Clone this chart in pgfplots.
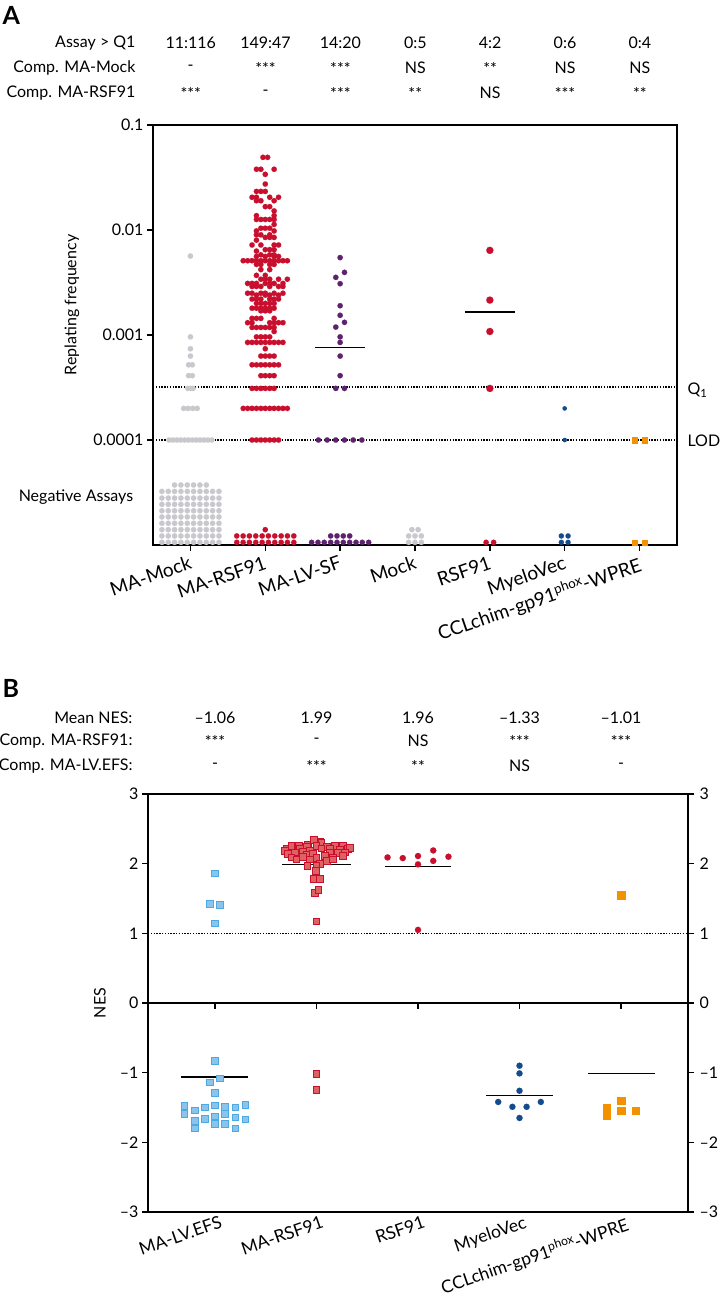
\documentclass[border=0pt]{standalone}
\usepackage{pgfplots}
\pgfplotsset{compat=1.18}
\usepackage{fontspec}
\setmainfont{Lato}
\definecolor{cred}{RGB}{200,16,46}
\definecolor{cgray}{RGB}{200,200,205}
\definecolor{cpurple}{RGB}{94,33,110}
\definecolor{cblue}{RGB}{20,75,140}
\definecolor{corange}{RGB}{243,146,0}
\definecolor{clblue}{RGB}{140,195,235}
\definecolor{clbluedraw}{RGB}{75,170,228}
\definecolor{csqred}{RGB}{222,98,98}
\newcommand{\fs}{\fontsize{16}{19}\selectfont}
\newcommand{\fx}{\fontsize{19}{22}\selectfont}
\newcommand{\fxb}{\fontsize{17.5}{21}\selectfont}
\pgfplotsset{
  dot/.style={only marks, mark=*, mark size=2.7pt, mark options={draw=#1, fill=#1, line width=0.1pt}},
  meanline/.style={black, line width=1.5pt, no marks},
  dotline/.style={black, line width=1.5pt, dash pattern=on 1.4pt off 1.4pt, no marks},
}
\begin{document}
\begin{tikzpicture}
\path[use as bounding box] (0,0) rectangle (720pt,-1300pt);
% ---------------- Panel A header
\node[font=\bfseries\fontsize{25}{29}\selectfont, anchor=west] at (-1pt,-15pt) {A};
\node[anchor=east,font=\fs] at (139pt,-43pt) {Assay > Q1};
\node[anchor=east,font=\fs] at (139pt,-68pt) {Comp. MA-Mock};
\node[anchor=east,font=\fs] at (139pt,-93pt) {Comp. MA-RSF91};
\foreach \x/\t in {0/11:116,1/149:47,2/14:20,3/0:5,4/4:2,5/0:6,6/0:4}
  \node[font=\fs] at ({190.7pt+\x*74.86pt},-43pt) {\t};
\foreach \x/\t in {0/-,1/***,2/***,3/NS,4/**,5/NS,6/NS}
  \node[font=\fs] at ({190.7pt+\x*74.86pt},-68pt) {\t};
\foreach \x/\t in {0/***,1/-,2/***,3/**,4/NS,5/***,6/**}
  \node[font=\fs] at ({190.7pt+\x*74.86pt},-93pt) {\t};
\node[font=\fs, rotate=90] at (72pt,-305pt) {Replating frequency};
\node[font=\fs] at (76pt,-497pt) {Negative Assays};
\node[font=\fs, anchor=west] at (684pt,-390pt) {Q\textsubscript{1}};
\node[font=\fs, anchor=west] at (684pt,-441pt) {LOD};

\begin{axis}[
  at={(153pt,-545pt)}, anchor=south west, scale only axis,
  width=524pt, height=420pt,
  xmin=-0.5, xmax=6.5, ymode=log, ymin=1e-5, ymax=0.1,
  clip=false,
  axis line style={line width=1.6pt},
  xtick={0,1,2,3,4,5,6},
  xticklabels={MA-Mock, MA-RSF91, MA-LV-SF, Mock, RSF91, MyeloVec, CCLchim-gp91\textsuperscript{phox}-WPRE},
  ytick={1e-4,1e-3,1e-2,1e-1}, yticklabels={0.0001,0.001,0.01,0.1},
  yminorticks=false,
  xtick pos=bottom, ytick pos=left, tick align=outside,
  major tick length=6pt,
  every tick/.style={black, line width=1.4pt},
  tick label style={font=\fs},
  xticklabel style={rotate=19, anchor=north east, font=\fx},
]
\addplot[dotline] coordinates {(-0.5,0.00032) (6.5,0.00032)};
\addplot[dotline] coordinates {(-0.5,0.0001) (6.5,0.0001)};
% MA-Mock gray
\addplot[dot=cgray] coordinates {
(0,0.00565) (0,0.00096) (0,0.00074) (0,0.00063)
(-0.025,0.00052) (0.025,0.00052) (-0.025,0.00041) (0.025,0.00041)
(-0.035,0.00031) (0,0.00031) (0.035,0.00031)
(-0.09,0.0002) (-0.03,0.0002) (0.03,0.0002) (0.09,0.0002)
(-0.286,0.0001) (-0.234,0.0001) (-0.182,0.0001) (-0.130,0.0001) (-0.078,0.0001) (-0.026,0.0001)
(0.026,0.0001) (0.078,0.0001) (0.130,0.0001) (0.182,0.0001) (0.234,0.0001) (0.286,0.0001)
(-0.381,1.06e-5) (-0.296,1.06e-5) (-0.212,1.06e-5) (-0.127,1.06e-5) (-0.042,1.06e-5) (0.042,1.06e-5) (0.127,1.06e-5) (0.212,1.06e-5) (0.296,1.06e-5) (0.381,1.06e-5)
(-0.381,1.22e-5) (-0.296,1.22e-5) (-0.212,1.22e-5) (-0.127,1.22e-5) (-0.042,1.22e-5) (0.042,1.22e-5) (0.127,1.22e-5) (0.212,1.22e-5) (0.296,1.22e-5) (0.381,1.22e-5)
(-0.381,1.40e-5) (-0.296,1.40e-5) (-0.212,1.40e-5) (-0.127,1.40e-5) (-0.042,1.40e-5) (0.042,1.40e-5) (0.127,1.40e-5) (0.212,1.40e-5) (0.296,1.40e-5) (0.381,1.40e-5)
(-0.381,1.61e-5) (-0.296,1.61e-5) (-0.212,1.61e-5) (-0.127,1.61e-5) (-0.042,1.61e-5) (0.042,1.61e-5) (0.127,1.61e-5) (0.212,1.61e-5) (0.296,1.61e-5) (0.381,1.61e-5)
(-0.381,1.85e-5) (-0.296,1.85e-5) (-0.212,1.85e-5) (-0.127,1.85e-5) (-0.042,1.85e-5) (0.042,1.85e-5) (0.127,1.85e-5) (0.212,1.85e-5) (0.296,1.85e-5) (0.381,1.85e-5)
(-0.381,2.12e-5) (-0.296,2.12e-5) (-0.212,2.12e-5) (-0.127,2.12e-5) (-0.042,2.12e-5) (0.042,2.12e-5) (0.127,2.12e-5) (0.212,2.12e-5) (0.296,2.12e-5) (0.381,2.12e-5)
(-0.381,2.44e-5) (-0.296,2.44e-5) (-0.212,2.44e-5) (-0.127,2.44e-5) (-0.042,2.44e-5) (0.042,2.44e-5) (0.127,2.44e-5) (0.212,2.44e-5) (0.296,2.44e-5) (0.381,2.44e-5)
(-0.381,2.80e-5) (-0.296,2.80e-5) (-0.212,2.80e-5) (-0.127,2.80e-5) (-0.042,2.80e-5) (0.042,2.80e-5) (0.127,2.80e-5) (0.212,2.80e-5) (0.296,2.80e-5) (0.381,2.80e-5)
(-0.381,3.24e-5) (-0.296,3.24e-5) (-0.212,3.24e-5) (-0.127,3.24e-5) (-0.042,3.24e-5) (0.042,3.24e-5) (0.127,3.24e-5) (0.212,3.24e-5) (0.296,3.24e-5) (0.381,3.24e-5)
(-0.212,3.73e-5) (-0.127,3.73e-5) (-0.042,3.73e-5) (0.042,3.73e-5) (0.127,3.73e-5) (0.212,3.73e-5)
};
% MA-RSF91 red
\addplot[dot=cred] coordinates {
(0.969,0.0492) (1.031,0.0492)
(0.882,0.0379) (0.941,0.0379) (1.118,0.0379)
(1,0.0339) (1,0.0274)
(0.882,0.0233) (0.941,0.0233) (1,0.0233)
(0.823,0.0205) (0.882,0.0205) (1.059,0.0205) (1.177,0.0205)
(0.882,0.019) (0.941,0.019) (1.118,0.019)
(1,0.0167) (1.059,0.0167)
(1.118,0.0152)
(0.882,0.0137) (1.118,0.0137)
(0.882,0.0126) (0.941,0.0126) (1,0.0126) (1.059,0.0126) (1.118,0.0126)
(1.118,0.0113)
(0.941,0.0104) (1,0.0104) (1.059,0.0104)
(0.882,0.0098) (1.118,0.0098)
(0.882,0.009) (0.941,0.009) (1.059,0.009)
(1,0.0085) (1.059,0.0085) (1.118,0.0085)
(0.882,0.008)
(0.823,0.0072) (0.941,0.0072) (1.118,0.0072) (1.177,0.0072)
(1,0.0065) (1.059,0.0065) (1.118,0.0065)
(0.882,0.0063)
(0.941,0.0058) (1.059,0.0058) (1.118,0.0058)
(0.882,0.0056) (1,0.0056) (1.118,0.0056) (1.177,0.0056)
(0.705,0.0051) (0.764,0.0051) (0.823,0.0051) (0.882,0.0051) (0.941,0.0051) (1,0.0051) (1.059,0.0051) (1.118,0.0051) (1.177,0.0051) (1.236,0.0051) (1.295,0.0051)
(0.882,0.0047) (0.941,0.0047) (1.059,0.0047) (1.118,0.0047)
(0.941,0.0042) (1.059,0.0042)
(0.882,0.0037) (1,0.0037)
(0.941,0.0034) (1,0.0034) (1.059,0.0034) (1.177,0.0034) (1.295,0.0034)
(0.764,0.0031) (0.823,0.0031) (0.882,0.0031) (1,0.0031) (1.059,0.0031) (1.118,0.0031) (1.236,0.0031)
(0.823,0.0029) (0.882,0.0029) (0.941,0.0029) (1.059,0.0029) (1.177,0.0029) (1.236,0.0029)
(0.764,0.0025) (0.823,0.0025) (0.941,0.0025) (1,0.0025) (1.118,0.0025) (1.236,0.0025)
(0.882,0.0024) (1,0.0024) (1.059,0.0024) (1.177,0.0024)
(0.823,0.0022) (0.882,0.0022) (0.941,0.0022) (1.059,0.0022) (1.118,0.0022) (1.177,0.0022)
(0.882,0.002) (0.941,0.002) (1,0.002) (1.059,0.002) (1.118,0.002)
(0.823,0.0018) (0.882,0.0018) (0.941,0.0018) (1,0.0018) (1.059,0.0018) (1.118,0.0018)
(0.941,0.0017) (1,0.0017) (1.059,0.0017)
(0.823,0.00144) (0.882,0.00144) (0.941,0.00144) (1.118,0.00144)
(0.764,0.00131) (0.823,0.00131) (1.059,0.00131) (1.118,0.00131) (1.177,0.00131) (1.236,0.00131)
(0.823,0.00118) (0.882,0.00118) (0.941,0.00118) (1,0.00118) (1.059,0.00118) (1.118,0.00118)
(1.118,0.00108)
(0.882,0.00096) (0.941,0.00096) (1,0.00096) (1.059,0.00096)
(0.764,0.00085) (0.823,0.00085) (0.882,0.00085) (0.941,0.00085) (1,0.00085) (1.059,0.00085) (1.118,0.00085) (1.177,0.00085) (1.236,0.00085)
(1,0.00074)
(0.941,0.00063) (1,0.00063) (1.059,0.00063) (1.118,0.00063)
(0.823,0.00052) (0.882,0.00052) (0.941,0.00052) (1,0.00052) (1.059,0.00052) (1.118,0.00052) (1.177,0.00052)
(0.941,0.00041) (1,0.00041) (1.059,0.00041) (1.118,0.00041)
(0.823,0.00031) (0.882,0.00031) (0.941,0.00031) (1,0.00031) (1.059,0.00031) (1.118,0.00031)
(0.705,0.0002) (0.764,0.0002) (0.823,0.0002) (0.882,0.0002) (0.941,0.0002) (1,0.0002) (1.059,0.0002) (1.118,0.0002) (1.177,0.0002) (1.236,0.0002) (1.295,0.0002)
(0.823,0.0001) (0.882,0.0001) (0.941,0.0001) (1,0.0001) (1.059,0.0001) (1.118,0.0001) (1.177,0.0001)
(0.619,1.06e-5) (0.704,1.06e-5) (0.788,1.06e-5) (0.873,1.06e-5) (0.958,1.06e-5) (1.042,1.06e-5) (1.127,1.06e-5) (1.212,1.06e-5) (1.296,1.06e-5) (1.381,1.06e-5)
(0.619,1.22e-5) (0.704,1.22e-5) (0.788,1.22e-5) (0.873,1.22e-5) (0.958,1.22e-5) (1.042,1.22e-5) (1.127,1.22e-5) (1.212,1.22e-5) (1.296,1.22e-5) (1.381,1.22e-5)
(1,1.40e-5)
};
% MA-LV-SF purple
\addplot[dot=cpurple] coordinates {
(2,0.00546) (2.058,0.00395) (1.942,0.00354) (2,0.00308) (2,0.0019) (2,0.00154)
(2.058,0.00132) (1.942,0.00119) (2,0.00096) (2,0.00085) (2,0.00063) (2,0.00041)
(1.942,0.00031) (2.058,0.00031)
(1.71,0.0001) (1.826,0.0001) (1.942,0.0001) (2.058,0.0001) (2.174,0.0001) (2.29,0.0001)
(1.619,1.06e-5) (1.704,1.06e-5) (1.788,1.06e-5) (1.873,1.06e-5) (1.958,1.06e-5) (2.042,1.06e-5) (2.127,1.06e-5) (2.212,1.06e-5) (2.296,1.06e-5) (2.381,1.06e-5)
(1.873,1.22e-5) (1.958,1.22e-5) (2.042,1.22e-5) (2.127,1.22e-5)
};
% Mock gray
\addplot[dot=cgray] coordinates {
(2.915,1.06e-5) (3,1.06e-5) (3.085,1.06e-5)
(2.915,1.22e-5) (3,1.22e-5) (3.085,1.22e-5)
(2.958,1.40e-5) (3.042,1.40e-5)
};
% RSF91 red
\addplot[only marks, mark=*, mark size=3.6pt, mark options={draw=cred, fill=cred, line width=0.1pt}] coordinates {
(4,0.0064) (4,0.00215) (4,0.00108) (4,0.00031)
};
\addplot[dot=cred] coordinates {(3.95,1.06e-5) (4.05,1.06e-5)};
% MyeloVec blue
\addplot[only marks, mark=*, mark size=2.2pt, mark options={draw=cblue, fill=cblue, line width=0.1pt}] coordinates {(5,0.0002) (5,0.0001)};
\addplot[only marks, mark=*, mark size=2.6pt, mark options={draw=cblue, fill=cblue, line width=0.1pt}] coordinates {
(4.955,1.06e-5) (5.045,1.06e-5) (4.955,1.22e-5) (5.045,1.22e-5)};
% CCLchim orange squares
\addplot[only marks, mark=square*, mark size=2.8pt, mark options={draw=corange, fill=corange, line width=0.1pt}] coordinates {
(5.933,0.0001) (6.067,0.0001) (5.933,1.06e-5) (6.067,1.06e-5)};
% means
\addplot[meanline] coordinates {(0.67,0.00507) (1.33,0.00507)};
\addplot[meanline] coordinates {(1.67,0.00076) (2.33,0.00076)};
\addplot[meanline] coordinates {(3.667,0.00166) (4.333,0.00166)};
\end{axis}

% ---------------- Panel B header
\node[font=\bfseries\fontsize{25}{29}\selectfont, anchor=west] at (-1pt,-688pt) {B};
\node[anchor=east,font=\fs] at (136pt,-718pt) {Mean NES:};
\node[anchor=east,font=\fs] at (136pt,-741pt) {Comp. MA-RSF91:};
\node[anchor=east,font=\fs] at (136pt,-766pt) {Comp. MA-LV.EFS:};
\foreach \x/\t in {0/–1.06,1/1.99,2/1.96,3/–1.33,4/–1.01}
  \node[font=\fs] at ({215pt+\x*101.5pt},-718pt) {\t};
\foreach \x/\t in {0/***,1/-,2/NS,3/***,4/***}
  \node[font=\fs] at ({215pt+\x*101.5pt},-741pt) {\t};
\foreach \x/\t in {0/-,1/***,2/**,3/NS,4/-}
  \node[font=\fs] at ({215pt+\x*101.5pt},-766pt) {\t};
\node[font=\fs, rotate=90] at (100pt,-1003pt) {NES};

\begin{axis}[
  at={(148pt,-1212pt)}, anchor=south west, scale only axis,
  width=540pt, height=418pt,
  xmin=-0.66, xmax=4.66, ymin=-3, ymax=3,
  clip=false,
  axis line style={line width=1.6pt},
  xtick=\empty,
  ytick={-3,-2,-1,0,1,2,3}, yticklabels={–3,–2,–1,0,1,2,3},
  ytick pos=both, yticklabel pos=left, tick align=outside,
  major tick length=6pt,
  every tick/.style={black, line width=1.4pt},
  tick label style={font=\fs},
]
\draw[line width=1.6pt] (axis cs:-0.66,0) -- (axis cs:4.66,0);
\draw[line width=1.4pt] (axis cs:0,0) -- ([yshift=-6pt]axis cs:0,0);
\draw[line width=1.4pt] (axis cs:1,0) -- ([yshift=-6pt]axis cs:1,0);
\draw[line width=1.4pt] (axis cs:2,0) -- ([yshift=-6pt]axis cs:2,0);
\draw[line width=1.4pt] (axis cs:3,0) -- ([yshift=-6pt]axis cs:3,0);
\draw[line width=1.4pt] (axis cs:4,0) -- ([yshift=-6pt]axis cs:4,0);
\node[font=\fs, anchor=west] at (axis cs:4.66,3) [xshift=8pt] {3};
\node[font=\fs, anchor=west] at (axis cs:4.66,2) [xshift=8pt] {2};
\node[font=\fs, anchor=west] at (axis cs:4.66,1) [xshift=8pt] {1};
\node[font=\fs, anchor=west] at (axis cs:4.66,0) [xshift=8pt] {0};
\node[font=\fs, anchor=west] at (axis cs:4.66,-1) [xshift=8pt] {–1};
\node[font=\fs, anchor=west] at (axis cs:4.66,-2) [xshift=8pt] {–2};
\node[font=\fs, anchor=west] at (axis cs:4.66,-3) [xshift=8pt] {–3};
\node[font=\fxb, rotate=19, anchor=north east] at (axis cs:0,-3) [xshift=6pt, yshift=-1pt] {MA-LV.EFS};
\node[font=\fxb, rotate=19, anchor=north east] at (axis cs:1,-3) [xshift=6pt, yshift=-1pt] {MA-RSF91};
\node[font=\fxb, rotate=19, anchor=north east] at (axis cs:2,-3) [xshift=6pt, yshift=-1pt] {RSF91};
\node[font=\fxb, rotate=19, anchor=north east] at (axis cs:3,-3) [xshift=6pt, yshift=-1pt] {MyeloVec};
\node[font=\fxb, rotate=19, anchor=north east] at (axis cs:4,-3) [xshift=6pt, yshift=-1pt] {CCLchim-gp91\textsuperscript{phox}-WPRE};
\addplot[dotline] coordinates {(-0.66,1) (4.66,1)};
% MA-LV.EFS light blue squares
\addplot[only marks, mark=square*, mark size=3.3pt, mark options={fill=clblue, draw=clbluedraw, line width=0.9pt}] coordinates {
(0,1.86) (-0.05,1.42) (0.05,1.41) (0,1.14)
(0,-0.83) (0.05,-1.08) (-0.05,-1.14) (0,-1.29)
(-0.30,-1.48) (-0.30,-1.59) (-0.20,-1.54) (-0.20,-1.69) (-0.20,-1.80)
(-0.10,-1.50) (-0.10,-1.66) (0,-1.47) (0,-1.63) (0,-1.74)
(0.10,-1.49) (0.10,-1.59) (0.10,-1.74) (0.20,-1.50) (0.20,-1.64) (0.20,-1.80)
(0.30,-1.46) (0.30,-1.67)
};
% MA-RSF91 red squares
\addplot[only marks, mark=square*, mark size=3.4pt, mark options={fill=csqred, draw=cred, line width=0.9pt}] coordinates {
(1.035,2.31) (1.049,2.30) (0.918,2.27) (0.977,2.34)
(0.704,2.22) (0.754,2.25) (0.829,2.25) (0.908,2.24) (1,2.25) (1.099,2.24) (1.181,2.25) (1.263,2.25) (1.312,2.21)
(0.688,2.18) (1.33,2.23) (0.836,2.21) (1.131,2.22) (1.23,2.20)
(0.721,2.14) (0.787,2.16) (0.869,2.17) (0.934,2.18) (1.049,2.22) (1.131,2.16) (1.213,2.15) (1.279,2.16)
(0.902,2.12) (0.967,2.14) (1.082,2.11)
(0.754,2.09) (0.869,2.10) (1,2.08) (1.164,2.08) (1.263,2.11) (0.803,2.06)
(0.934,2.06) (1.099,2.04) (1.16,2.06)
(0.911,1.97) (1.033,2.00) (1,1.97)
(0.993,1.89) (0.977,1.78) (1.033,1.78) (0.987,1.58) (1.020,1.62) (1,1.17)
(1,-1.02) (1,-1.25)
};
% RSF91 red dots
\addplot[only marks, mark=*, mark size=3.1pt, mark options={draw=cred, fill=cred, line width=0.1pt}] coordinates {
(1.70,2.09) (1.85,2.08) (2.0,2.11) (2.0,1.99) (2.15,2.19) (2.15,2.04) (2.30,2.10) (2.0,1.05)
};
% MyeloVec dark blue dots
\addplot[only marks, mark=*, mark size=3.1pt, mark options={draw=cblue, fill=cblue, line width=0.1pt}] coordinates {
(3,-0.90) (3,-1.01) (3,-1.26) (2.79,-1.42) (3.21,-1.42) (2.93,-1.49) (3.07,-1.49) (3,-1.65)
};
% CCLchim orange squares
\addplot[only marks, mark=square*, mark size=3.6pt, mark options={draw=corange, fill=corange, line width=0.1pt}] coordinates {
(4,1.55) (3.86,-1.50) (3.86,-1.62) (4,-1.40) (4,-1.54) (4.14,-1.54)
};
% means
\addplot[meanline] coordinates {(-0.33,-1.06) (0.33,-1.06)};
\addplot[meanline] coordinates {(0.665,1.99) (1.335,1.99)};
\addplot[meanline] coordinates {(1.675,1.96) (2.325,1.96)};
\addplot[meanline] coordinates {(2.67,-1.33) (3.33,-1.33)};
\addplot[meanline] coordinates {(3.67,-1.01) (4.33,-1.01)};
\end{axis}
\end{tikzpicture}
\end{document}
